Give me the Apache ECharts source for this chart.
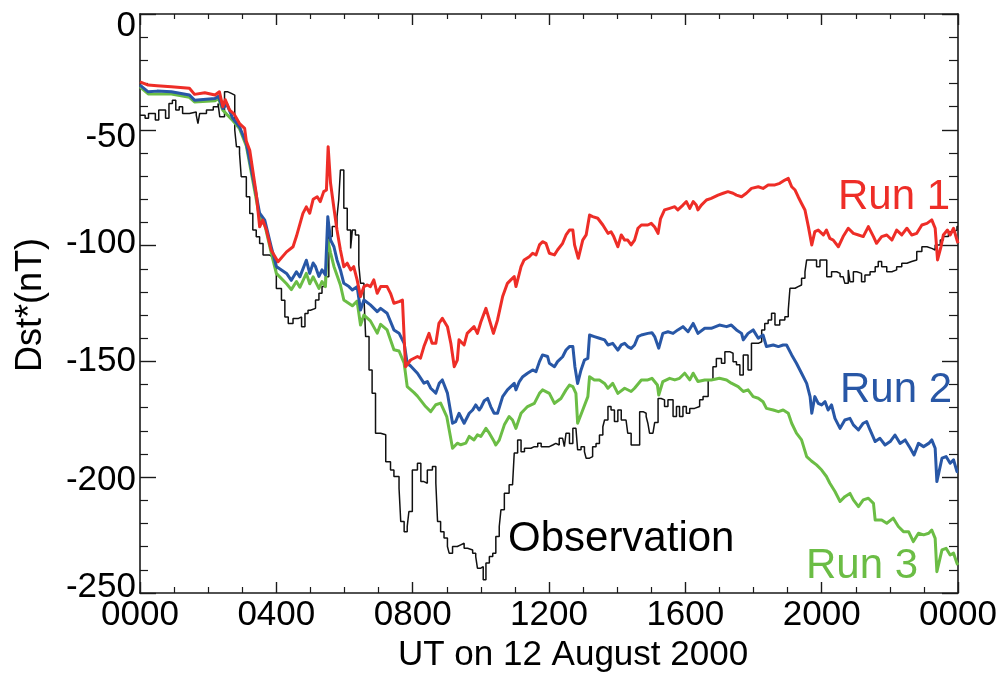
<!DOCTYPE html>
<html>
<head>
<meta charset="utf-8">
<script src="https://cdn.jsdelivr.net/npm/echarts@6/dist/echarts.min.js"></script>
<style>html,body{margin:0;padding:0;background:#fff}#c{width:1002px;height:677px}</style>
</head>
<body>
<div id="c"></div>
<script>
// ---------- data (hours UT, Dst* in nT) ----------
var xTicks = [0, 4, 8, 12, 16, 20, 24];
var yTicks = [0, -50, -100, -150, -200, -250];

var obsT = [0.0,0.15,0.25,0.45,0.55,0.75,0.85,0.95,1.05,1.15,1.25,1.45,1.65,1.7,1.75,1.95,2.15,2.29,2.34,2.48,2.58,2.68,2.78,2.83,2.92,2.97,3.12,3.22,3.31,3.41,3.51,3.61,3.8,3.9,4.0,4.15,4.25,4.35,4.49,4.64,4.74,4.84,4.93,5.0,5.15,5.25,5.34,5.44,5.54,5.64,5.78,5.83,5.88,5.98,6.08,6.18,6.23,6.32,6.42,6.47,6.57,6.62,6.72,6.81,6.91,7.06,7.21,7.35,7.45,7.6,7.65,7.75,7.84,7.89,7.99,8.14,8.24,8.33,8.43,8.58,8.68,8.73,8.82,8.92,9.02,9.07,9.17,9.31,9.41,9.51,9.61,9.76,9.85,9.9,10.0,10.07,10.15,10.25,10.35,10.44,10.54,10.59,10.69,10.83,10.93,10.98,11.08,11.18,11.28,11.47,11.57,11.67,11.77,11.91,12.01,12.11,12.2,12.3,12.4,12.45,12.5,12.6,12.7,12.79,12.84,12.94,13.04,13.09,13.19,13.28,13.38,13.48,13.58,13.63,13.73,13.82,13.92,14.02,14.12,14.26,14.31,14.41,14.56,14.66,14.76,14.85,14.9,14.95,15.05,15.1,15.2,15.29,15.39,15.49,15.64,15.74,15.83,15.93,16.03,16.13,16.27,16.42,16.52,16.67,16.81,16.91,17.06,17.16,17.3,17.4,17.5,17.6,17.7,17.84,17.94,18.14,18.24,18.33,18.43,18.53,18.63,18.77,18.92,19.02,19.07,19.22,19.31,19.41,19.51,19.56,19.71,19.85,19.95,20.05,20.15,20.29,20.44,20.54,20.63,20.68,20.78,20.83,20.93,21.03,21.17,21.27,21.42,21.57,21.66,21.76,21.91,22.06,22.2,22.35,22.5,22.64,22.79,22.94,23.09,23.23,23.33,23.48,23.57,23.72,23.87,23.97,24.0];
var obsV = [-43.7,-45,-43,-45.8,-41.5,-45,-38.6,-37.2,-41.5,-40,-43,-42.3,-43.7,-47.3,-43,-41.5,-40,-38.6,-44.4,-33.6,-34.3,-35,-50.1,-57.3,-60.2,-70.3,-78.9,-86.1,-93.3,-96.2,-99.1,-104.1,-104.9,-106.3,-118.5,-123.6,-130.8,-133.6,-131.5,-130.8,-135,-129.3,-127.9,-127.1,-123.5,-120.6,-117.7,-113.4,-96.1,-91.8,-87.5,-80.3,-67.4,-83.9,-93.3,-101.2,-93.3,-95.4,-108.4,-116.3,-122,-139.3,-153.7,-163.8,-181,-181.7,-193.3,-196.9,-199.7,-204.8,-219.1,-223.5,-221.3,-214.8,-196.9,-194,-201.9,-202.6,-196.9,-195.4,-202.6,-219.1,-223.5,-226.3,-229.9,-232.8,-229.9,-229.2,-228.5,-230.7,-231.4,-232.8,-234.3,-239.3,-238.6,-244.3,-237,-234.2,-232.8,-225.6,-221.3,-214.1,-206.9,-203.3,-202.6,-189.6,-183.9,-189,-187.5,-186.8,-186.8,-185.3,-186.8,-186.8,-186.1,-185.4,-186.1,-183.2,-183.2,-186.8,-181,-185.4,-178.9,-178.2,-188.2,-186.8,-189,-191.8,-191.1,-186.8,-185.4,-181.8,-178.2,-175.3,-169.5,-171,-176,-171,-175.3,-176,-181,-186.1,-186.1,-171.7,-172.4,-173.8,-176.7,-181,-181,-176.4,-166,-166.6,-169.5,-166.6,-173.8,-169.5,-173.8,-169.5,-172.4,-170.3,-169.5,-166.6,-165.2,-158,-152.3,-148.7,-150.8,-145.8,-146.5,-150.1,-151.5,-155.9,-147.2,-153.7,-142.2,-141.5,-136.4,-133.6,-132.1,-129.2,-134.3,-132.1,-130.7,-127.8,-118.4,-117.7,-117,-114.1,-111.3,-106.2,-106.2,-109.1,-106.2,-106.2,-113.4,-111.3,-112,-113.4,-114.1,-116.3,-110.5,-115.6,-111.3,-112,-115.6,-112.7,-111.3,-109.1,-106.9,-109.1,-111.3,-110.5,-109.1,-107.6,-106.9,-106.2,-102.6,-100.5,-101.2,-101.9,-99.7,-97.6,-96.1,-94,-93.3,-91.8,-91.8];

var run1T = [0.0,0.24,0.5,0.92,1.45,1.6,1.9,2.2,2.33,2.43,2.5,2.63,2.75,2.92,3.07,3.12,3.22,3.41,3.51,3.6,3.71,3.85,4.05,4.3,4.49,4.59,4.78,4.88,4.98,5.08,5.2,5.29,5.39,5.47,5.52,5.59,5.69,5.78,5.88,5.98,6.08,6.18,6.27,6.37,6.47,6.57,6.67,6.76,6.86,6.96,7.06,7.25,7.35,7.45,7.6,7.7,7.79,7.94,8.14,8.23,8.33,8.48,8.57,8.68,8.77,8.87,9.02,9.12,9.22,9.31,9.36,9.51,9.6,9.8,9.9,10.0,10.15,10.25,10.37,10.49,10.64,10.78,10.88,10.98,11.03,11.13,11.18,11.27,11.42,11.52,11.62,11.72,11.81,11.91,12.01,12.16,12.25,12.4,12.5,12.6,12.7,12.75,12.86,12.99,13.09,13.19,13.28,13.43,13.58,13.73,13.82,13.9,14.02,14.12,14.22,14.31,14.41,14.51,14.61,14.71,14.9,15.0,15.1,15.2,15.27,15.39,15.54,15.69,15.78,15.93,16.03,16.13,16.23,16.32,16.37,16.47,16.62,16.76,16.96,17.11,17.25,17.4,17.5,17.65,17.79,17.94,18.14,18.28,18.43,18.63,18.77,18.92,19.02,19.12,19.22,19.31,19.41,19.51,19.61,19.71,19.8,19.9,20.05,20.14,20.24,20.34,20.49,20.63,20.78,20.93,21.08,21.22,21.37,21.52,21.61,21.76,21.91,22.06,22.2,22.35,22.5,22.64,22.79,22.94,23.09,23.23,23.33,23.4,23.5,23.57,23.69,23.77,23.87,23.97,24.0];
var run1V = [-29.3,-30.7,-31,-31.4,-32.1,-34.7,-34,-35,-33.6,-40,-37,-41.5,-43,-47.3,-49.4,-55,-58.8,-77.5,-91.9,-89,-93.3,-102,-107,-102.7,-100.5,-96,-86.1,-83.3,-86,-80,-78.9,-81,-76.7,-76,-57.3,-73,-83.9,-93.3,-101.9,-109.1,-107.6,-110.5,-109.1,-114.8,-122,-117.7,-117,-117.7,-114.8,-120.6,-117.7,-117.7,-120.6,-124.9,-124.2,-123.5,-152.3,-149.4,-147.9,-148.6,-143.6,-137.9,-142.2,-142.2,-133.6,-131.4,-135,-142.2,-152.3,-149.4,-140.7,-142.9,-137.9,-135,-137.9,-133,-127.1,-132,-137.9,-132.1,-122,-116.3,-114.8,-113.4,-117.7,-112,-109.1,-106.2,-104.8,-103.3,-104,-99.7,-98.3,-99,-103.3,-104,-101.9,-99,-95.4,-93.3,-93.3,-99.7,-105.5,-97.6,-95.4,-86.8,-87.5,-88.2,-91.1,-94.7,-94,-96.1,-100.5,-95.4,-97.6,-97.6,-99.7,-97.6,-92.5,-91.1,-91.1,-90.4,-92,-94.7,-88.5,-84.6,-83.9,-83.2,-84.6,-82.5,-81,-83.9,-81,-82.5,-84.6,-82.5,-80.3,-79.6,-78.2,-77.4,-76.7,-77.4,-78.2,-78.9,-77.4,-75.3,-74.6,-75.3,-73.8,-73.8,-73.1,-71.7,-71,-74.6,-76,-78.9,-81.8,-84.6,-91.8,-99.7,-94,-93.3,-95.4,-93.3,-96.9,-97.6,-100.5,-96.1,-92.5,-94.7,-95.4,-96.1,-91.8,-96.1,-99,-96.1,-95.4,-97.6,-93.3,-95.4,-92.5,-95.4,-94.7,-91.1,-90.4,-88.9,-92.5,-106.2,-100.5,-95.4,-93.3,-95.4,-92.5,-97.6,-99];

var run2T = [0.0,0.24,0.5,0.92,1.45,1.6,2.2,2.3,2.43,2.55,2.72,2.92,3.12,3.31,3.51,3.66,3.85,4.0,4.3,4.44,4.59,4.69,4.88,4.98,5.08,5.15,5.25,5.34,5.44,5.51,5.59,5.69,5.78,5.88,5.98,6.13,6.23,6.37,6.47,6.57,6.76,6.96,7.06,7.25,7.45,7.6,7.75,7.84,7.94,8.14,8.33,8.43,8.53,8.68,8.78,8.87,9.02,9.17,9.26,9.36,9.51,9.66,9.76,9.85,9.95,10.0,10.1,10.2,10.29,10.39,10.49,10.64,10.78,10.88,10.98,11.03,11.13,11.23,11.37,11.52,11.62,11.72,11.81,11.96,12.01,12.16,12.25,12.4,12.5,12.6,12.7,12.76,12.84,12.94,13.04,13.14,13.19,13.33,13.48,13.63,13.73,13.87,14.02,14.12,14.22,14.31,14.41,14.51,14.61,14.71,14.9,15.02,15.1,15.22,15.34,15.49,15.64,15.78,15.93,16.08,16.23,16.37,16.57,16.76,17.0,17.21,17.35,17.5,17.65,17.7,17.84,17.99,18.14,18.28,18.38,18.58,18.73,18.87,18.97,19.12,19.26,19.41,19.56,19.66,19.71,19.8,19.9,20.0,20.1,20.19,20.29,20.39,20.54,20.68,20.83,20.93,21.08,21.22,21.32,21.42,21.57,21.71,21.86,22.01,22.15,22.3,22.45,22.6,22.71,22.84,22.99,23.14,23.23,23.33,23.38,23.53,23.65,23.77,23.87,23.97,24.0];
var run2V = [-30.7,-33.6,-33.3,-33.6,-35,-37.2,-36.5,-35.5,-40.8,-39,-45,-48.7,-55.9,-70.3,-86,-89,-100.5,-109,-112,-115,-111.3,-113.5,-106.3,-112,-107.5,-109.1,-113.3,-110.5,-112.7,-87.5,-97.6,-100.5,-106.2,-110.5,-116.3,-117.7,-119.2,-117.7,-127.8,-123.5,-125.6,-128.5,-127.1,-129.2,-136.4,-137.8,-142.2,-150.8,-152,-155.1,-159.4,-158.7,-161.6,-163.7,-159.4,-158,-163.7,-176.7,-176,-172.4,-176.7,-172.4,-171,-168.8,-171,-170,-167,-166,-169.5,-172.4,-172.4,-165.2,-162.3,-160.9,-159.5,-162.3,-158.7,-156.6,-155.1,-153.7,-154.4,-150.1,-147.2,-147.9,-150.8,-152.3,-150.1,-148,-145.1,-143.6,-143.6,-152.3,-159.5,-153.7,-149.4,-148.7,-138.6,-139.3,-140,-140.7,-142.9,-142.2,-145.1,-142.9,-142.2,-143.6,-144.4,-142.9,-139.3,-138.6,-137.9,-137.6,-139.3,-144.3,-137.9,-137.2,-137.9,-136.4,-135,-137.2,-133.6,-137.9,-135.7,-135.7,-134.3,-135,-134.3,-136.4,-137.9,-140.7,-137.9,-136.4,-140,-138.6,-143.6,-142.9,-143.6,-142.9,-142.9,-147.2,-150.8,-155.1,-159.5,-165.2,-172.4,-165.2,-168.1,-168.8,-167.4,-171,-168.8,-174.6,-178.9,-175.3,-174.6,-177.4,-179.6,-176.7,-176,-179.6,-184.6,-183.2,-186.1,-184.6,-181.8,-185.4,-183.9,-187.5,-190.4,-185.4,-186.8,-185.4,-183.9,-187.5,-201.9,-191.8,-191.1,-194,-192.5,-197.6,-197.6];

var run3T = [0.0,0.24,0.92,1.45,1.6,2.2,2.3,2.43,2.72,2.92,3.12,3.31,3.51,3.66,3.85,4.0,4.3,4.44,4.59,4.69,4.88,4.98,5.08,5.25,5.34,5.44,5.51,5.59,5.69,5.88,5.98,6.23,6.37,6.47,6.57,6.76,6.96,7.06,7.25,7.45,7.6,7.75,7.84,8.04,8.14,8.38,8.53,8.68,8.82,9.0,9.17,9.31,9.41,9.56,9.66,9.8,9.9,10.0,10.15,10.25,10.39,10.44,10.49,10.54,10.69,10.83,10.93,11.03,11.18,11.37,11.57,11.72,11.81,12.01,12.16,12.35,12.5,12.6,12.7,12.79,12.84,12.99,13.14,13.19,13.33,13.48,13.63,13.73,13.87,14.02,14.22,14.41,14.51,14.71,14.9,15.02,15.18,15.22,15.34,15.54,15.69,15.83,15.98,16.13,16.23,16.37,16.57,16.76,17.0,17.21,17.35,17.55,17.7,17.84,17.99,18.14,18.28,18.38,18.58,18.73,18.87,19.02,19.12,19.26,19.41,19.56,19.7,19.85,20.0,20.14,20.24,20.39,20.54,20.68,20.83,20.93,21.08,21.22,21.37,21.52,21.57,21.76,21.91,22.1,22.25,22.4,22.55,22.69,22.84,22.99,23.14,23.23,23.33,23.38,23.53,23.65,23.77,23.87,23.97,24.0];
var run3V = [-31.5,-34.5,-34.5,-36,-38,-37.5,-36.5,-41.5,-46,-49.5,-57,-72,-88,-91,-103,-112,-116.5,-119,-115.5,-118,-112,-116.5,-113.5,-118.5,-115.5,-117.7,-97.6,-103,-109,-117,-123.5,-126,-124,-134.3,-130,-132.5,-137.8,-134,-136.4,-145,-145.5,-150.8,-160.9,-163.5,-165,-169.5,-171.7,-168.7,-168,-173.8,-187.5,-185.3,-186,-185.3,-182.4,-183.9,-181.7,-182.4,-178.9,-181,-184.6,-186.1,-186,-184,-177.4,-173.8,-175.3,-178.9,-172.4,-169.5,-168.1,-163.8,-162.3,-163.8,-168.1,-166,-162.3,-160.2,-160.9,-163.8,-176.7,-171,-165.2,-156.6,-158,-158,-159.5,-161.6,-159.5,-163.8,-161.6,-163,-161.6,-158,-158,-157.3,-160.2,-164.5,-158.7,-157.3,-158,-157.3,-155.1,-158,-155.1,-158.7,-158,-158,-157.3,-158,-159.4,-160.9,-163,-162.3,-165.2,-165.9,-167.4,-170.3,-171,-171.7,-171,-172.4,-176.7,-181,-183.9,-191.1,-193,-194.7,-196.9,-199.7,-202.6,-206.2,-210.5,-208.4,-207,-209.8,-212.7,-209.8,-209.1,-211.3,-218.5,-218.5,-219.9,-217.7,-221.3,-223.5,-223.5,-227.8,-224.2,-224.9,-224.2,-222.8,-226.4,-240.8,-231.4,-230.7,-233.6,-232.8,-237.2,-237.9];

var seriesNames = ['Observation', 'Run 1', 'Run 2', 'Run 3'];
var xTitle = 'UT on 12 August 2000';
var yTitle = 'Dst*(nT)';

// ---------- chart ----------
function pairs(t, v) { return t.map(function (x, i) { return [x, v[i]]; }); }
var FONT = '"Liberation Sans", Arial, Helvetica, sans-serif';
var AX = '#1a1a1a';

function xLabel(v) {
  var h = Math.round(v) % 24;
  return (h < 10 ? '0' : '') + h + '00';
}
function yLabel(v) {
  if (v === 0) return '{t|0}';
  if (v === -50) return '{m|-50}';
  if (v === -250) return '{b|-250}';
  if (v === -100) return '{u|-100}';
  if (v === -200) return '{d|-200}';
  return '{n|' + v + '}';
}
var lbl = {fontSize: 35, fontFamily: FONT, color: '#000'};

var chart = echarts.init(document.getElementById('c'), null, {renderer: 'canvas'});
chart.setOption({
  animation: false,
  backgroundColor: '#fff',
  grid: {left: 140, right: 44, top: 14, bottom: 84, containLabel: false, outerBoundsMode: 'none'},
  xAxis: [{
    type: 'value', min: xTicks[0], max: xTicks[xTicks.length - 1], interval: 4,
    axisLine: {show: true, onZero: false, lineStyle: {color: AX, width: 1.6}},
    axisTick: {show: true, inside: true, length: 11, lineStyle: {color: AX, width: 1.4}},
    minorTick: {show: true, splitNumber: 4, length: 6, lineStyle: {color: AX, width: 1.2}},
    splitLine: {show: false},
    axisLabel: {show: true, margin: 5, fontSize: 35, fontFamily: FONT, color: '#000', formatter: xLabel, showMinLabel: true, showMaxLabel: true}
  }, {
    type: 'value', position: 'top', min: xTicks[0], max: xTicks[xTicks.length - 1], interval: 4,
    axisLine: {show: true, onZero: false, lineStyle: {color: AX, width: 1.6}},
    axisTick: {show: true, inside: true, length: 11, lineStyle: {color: AX, width: 1.4}},
    minorTick: {show: true, splitNumber: 4, length: 5, lineStyle: {color: AX, width: 1.2}},
    splitLine: {show: false},
    axisLabel: {show: false}
  }],
  yAxis: [{
    type: 'value', min: yTicks[yTicks.length - 1], max: yTicks[0], interval: 50,
    axisLine: {show: true, onZero: false, lineStyle: {color: AX, width: 1.6}},
    axisTick: {show: true, inside: true, length: 16, lineStyle: {color: AX, width: 1.4}},
    minorTick: {show: true, splitNumber: 5, length: 8, lineStyle: {color: AX, width: 1.2}},
    splitLine: {show: false},
    axisLabel: {
      show: true, margin: 4, formatter: yLabel, showMinLabel: true, showMaxLabel: true,
      rich: {
        t: Object.assign({padding: [24, 0, 0, 0]}, lbl),
        m: Object.assign({padding: [16, 0, 0, 0]}, lbl),
        u: Object.assign({padding: [0, 0, 4, 0]}, lbl),
        d: Object.assign({padding: [6, 0, 0, 0]}, lbl),
        b: Object.assign({padding: [0, 0, 12, 0]}, lbl),
        n: lbl
      }
    }
  }, {
    type: 'value', position: 'right', min: yTicks[yTicks.length - 1], max: yTicks[0], interval: 50,
    axisLine: {show: true, onZero: false, lineStyle: {color: AX, width: 1.6}},
    axisTick: {show: true, inside: true, length: 16, lineStyle: {color: AX, width: 1.4}},
    minorTick: {show: true, splitNumber: 5, length: 9, lineStyle: {color: AX, width: 1.2}},
    splitLine: {show: false},
    axisLabel: {show: false}
  }],
  series: [
    {name: seriesNames[0], type: 'line', step: 'end', data: pairs(obsT, obsV), showSymbol: false, symbol: 'none',
      lineStyle: {color: '#111', width: 1.5}, z: 2},
    {name: seriesNames[3], type: 'line', data: pairs(run3T, run3V), showSymbol: false, symbol: 'none',
      lineStyle: {color: '#6bbd45', width: 3, join: 'round'}, z: 3},
    {name: seriesNames[2], type: 'line', data: pairs(run2T, run2V), showSymbol: false, symbol: 'none',
      lineStyle: {color: '#2857a6', width: 3, join: 'round'}, z: 4},
    {name: seriesNames[1], type: 'line', data: pairs(run1T, run1V), showSymbol: false, symbol: 'none',
      lineStyle: {color: '#ee2d27', width: 3, join: 'round'}, z: 5}
  ],
  graphic: [
    {type: 'text', x: 838, y: 197, style: {text: seriesNames[1], font: '42px ' + FONT, fill: '#ee2d27', align: 'left', verticalAlign: 'middle'}},
    {type: 'text', x: 840, y: 390, style: {text: seriesNames[2], font: '42px ' + FONT, fill: '#2857a6', align: 'left', verticalAlign: 'middle'}},
    {type: 'text', x: 806, y: 566, style: {text: seriesNames[3], font: '42px ' + FONT, fill: '#6bbd45', align: 'left', verticalAlign: 'middle'}},
    {type: 'text', x: 508, y: 539, style: {text: seriesNames[0], font: '42px ' + FONT, fill: '#000', align: 'left', verticalAlign: 'middle'}},
    {type: 'text', x: 573, y: 655, style: {text: xTitle, font: '35px ' + FONT, fill: '#000', align: 'center', verticalAlign: 'middle'}},
    {type: 'text', x: 31, y: 305, rotation: Math.PI / 2, style: {text: yTitle, font: '36px ' + FONT, fill: '#000', align: 'center', verticalAlign: 'middle'}}
  ]
});
</script>
</body>
</html>
